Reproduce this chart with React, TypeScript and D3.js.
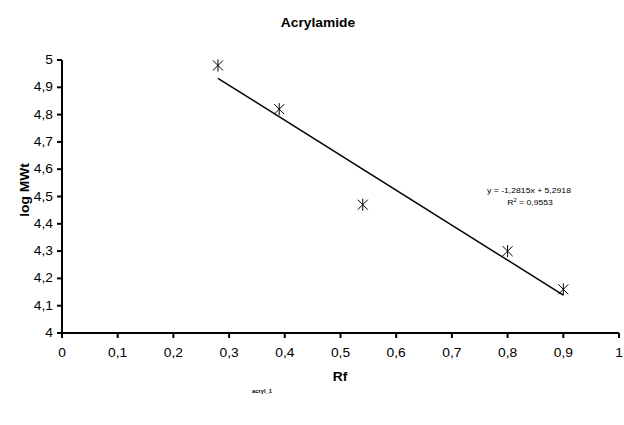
import React from 'react'
import * as d3 from 'd3'

const rf = [0.28, 0.39, 0.54, 0.8, 0.9]
const logMwt = [4.98, 4.82, 4.47, 4.3, 4.16]
const xTicks = [0, 0.1, 0.2, 0.3, 0.4, 0.5, 0.6, 0.7, 0.8, 0.9, 1]
const yTicks = [4, 4.1, 4.2, 4.3, 4.4, 4.5, 4.6, 4.7, 4.8, 4.9, 5]
const trend = [-1.2815, 5.2918] // slope, intercept
const equationText = ['y = -1,2815x + 5,2918', '0,9553']

const fmt = (v: number) => String(+v.toFixed(1)).replace('.', ',')
const font = 'Arial, "Liberation Sans", sans-serif'
const stretch = 1.15 // the original text is a bit wider than plain Arial

interface LabelProps {
  x: number
  y: number
  anchor?: 'start' | 'middle' | 'end'
  size?: number
  bold?: boolean
  rotate?: number
  children: React.ReactNode
}

const Label: React.FC<LabelProps> = ({ x, y, anchor = 'middle', size = 12, bold, rotate = 0, children }) => (
  <text
    transform={`translate(${x},${y}) rotate(${rotate}) scale(${stretch},1)`}
    textAnchor={anchor}
    fontSize={size}
    fontWeight={bold ? 'bold' : 'normal'}
  >
    {children}
  </text>
)

const App: React.FC = () => {
  const width = 624
  const height = 425
  const x = d3.scaleLinear().domain([0, 1]).range([62, 619])
  const y = d3.scaleLinear().domain([4, 5]).range([333, 60])

  const xs = d3.extent(rf) as [number, number]
  const line = d3
    .line<number>()
    .x(d => x(d))
    .y(d => y(trend[0] * d + trend[1]))

  return (
    <svg
      width={width}
      height={height}
      style={{ display: 'block', position: 'fixed', left: 0, top: 0 }}
      fontFamily={font}
    >
      <rect width={width} height={height} fill="#fff" />
      <Label x={318} y={27} bold>
        Acrylamide
      </Label>

      {/* axes */}
      <line x1={x(0)} x2={x(0)} y1={y(5)} y2={y(4)} stroke="#000" strokeWidth={2} />
      <line x1={x(0)} x2={x(1)} y1={y(4)} y2={y(4)} stroke="#000" strokeWidth={2} />
      {yTicks.map(t => (
        <g key={'y' + t}>
          <line x1={x(0) - 5} x2={x(0)} y1={y(t)} y2={y(t)} stroke="#000" strokeWidth={2} />
          <Label x={x(0) - 9} y={y(t) + 4} anchor="end">
            {fmt(t)}
          </Label>
        </g>
      ))}
      {xTicks.map(t => (
        <g key={'x' + t}>
          <line x1={x(t)} x2={x(t)} y1={y(4)} y2={y(4) + 5} stroke="#000" strokeWidth={2} />
          <Label x={x(t)} y={357}>
            {fmt(t)}
          </Label>
        </g>
      ))}
      <Label x={340} y={381} bold>
        Rf
      </Label>
      <Label x={29} y={190} rotate={-90} bold>
        log MWt
      </Label>

      {/* trendline */}
      <path d={line(xs) || ''} fill="none" stroke="#000" strokeWidth={1.5} />

      {/* markers */}
      {rf.map((d, i) => {
        const cx = x(d)
        const cy = y(logMwt[i])
        const r = 5
        return (
          <g key={i} stroke="#000" strokeWidth={1}>
            <line x1={cx - r} x2={cx + r} y1={cy - r} y2={cy + r} />
            <line x1={cx - r} x2={cx + r} y1={cy + r} y2={cy - r} />
            <line x1={cx} x2={cx} y1={cy - r - 1} y2={cy + r + 1} />
          </g>
        )
      })}

      <Label x={529} y={193} size={7.5}>
        {equationText[0]}
      </Label>
      <Label x={530} y={205} size={7.5}>
        R<tspan dy={-3} fontSize={5}>2</tspan>
        <tspan dy={3}> = {equationText[1]}</tspan>
      </Label>

      <Label x={262} y={393} size={5} bold>
        acryl_1
      </Label>
    </svg>
  )
}

export default App
